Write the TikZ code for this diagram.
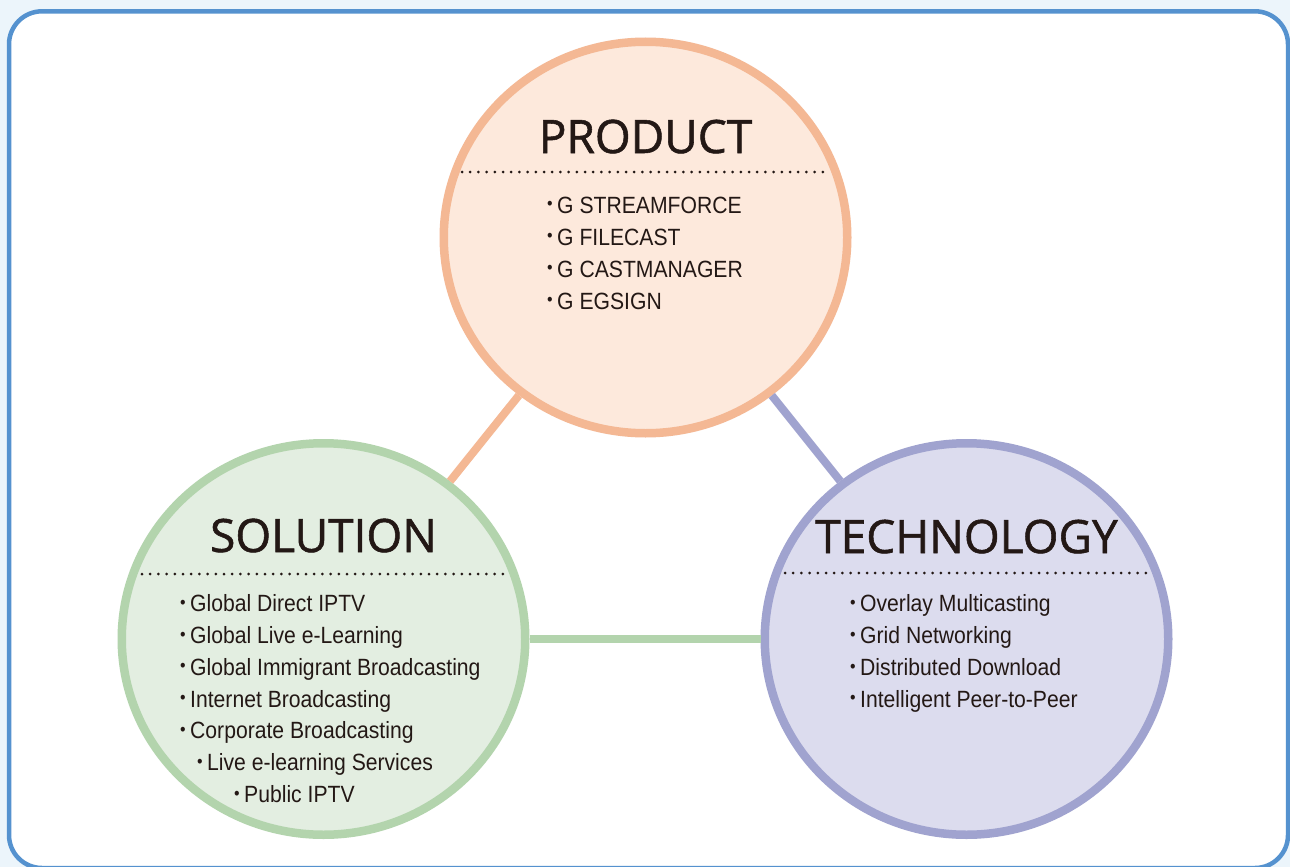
\documentclass[tikz,border=0pt]{standalone}
\usepackage{fontspec}
\setmainfont[FakeStretch=0.9]{Liberation Sans}
\newfontfamily\headfont[FakeBold=1.2]{Open Sans}
\usetikzlibrary{shapes.geometric}
\definecolor{prodline}{HTML}{F4B894}
\definecolor{prodfill}{HTML}{FDE9DC}
\definecolor{solline}{HTML}{B3D4AD}
\definecolor{solfill}{HTML}{E3EEE1}
\definecolor{techline}{HTML}{A0A3CF}
\definecolor{techfill}{HTML}{DCDCEE}
\definecolor{frameline}{HTML}{5592CF}
\definecolor{framebg}{HTML}{ECF5FB}
\definecolor{ink}{HTML}{231815}
\newcommand\dotmark{\llap{\raisebox{3.5pt}{\scalebox{0.75}{\textbullet}}\hspace{4.5pt}}}
\tikzset{
    bubble/.style={ellipse, draw=#1line, fill=#1fill, line width=8.5pt,
        minimum width=403.5pt, minimum height=391.5pt, inner sep=0pt},
    link/.style={draw=#1, line width=8pt},
    heading/.style={font=\headfont\fontsize{46}{46}\selectfont, text=ink, anchor=base, inner sep=0pt},
    sepline/.style={ink, line width=3pt, line cap=round, dash pattern=on 0pt off 8.2pt},
    item/.style={font=\fontsize{23.5}{28}\selectfont, text=ink, anchor=base west, inner sep=0pt},
}

\begin{document}
\begin{tikzpicture}[x=1pt, y=-1pt]
    \useasboundingbox (0,0) rectangle (1290,867);
    \fill[framebg] (0,0) rectangle (1290,867);
    \draw[frameline, fill=white, line width=4.5pt, rounded corners=33pt] (9,11.3) rectangle (1288,868);

    \node[bubble=prod] (prod) at (645.5,237.5) {};
    \node[bubble=sol] (sol) at (323.5,639) {};
    \node[bubble=tech] (tech) at (966.5,639) {};

    \draw[link=prodline] (prod) -- (sol);
    \draw[link=techline] (prod) -- (tech);
    \draw[link=solline] (sol) -- (tech);

    % PRODUCT
    \node[heading] (prodtitle) at (645.5,153) {PRODUCT};
    \draw[sepline] (462,172) -- (830,172);
    \foreach \txt [count=\i from 0] in {G STREAMFORCE, G FILECAST, G CASTMANAGER, G EGSIGN}
        \node[item] (prod-\i) at (557,213.3+32*\i) {\dotmark\txt};

    % SOLUTION
    \node[heading] (soltitle) at (323.5,552) {SOLUTION};
    \draw[sepline] (142,574) -- (507,574);
    \foreach \dx/\txt [count=\i from 0] in {0/Global Direct IPTV, 0/Global Live e-Learning,
        0/Global Immigrant Broadcasting, 0/Internet Broadcasting, 0/Corporate Broadcasting,
        17/Live e-learning Services, 54/Public IPTV}
        \node[item] (sol-\i) at (190+\dx,611.7+31.8*\i) {\dotmark\txt};

    % TECHNOLOGY
    \node[heading] (techtitle) at (966.5,553) {TECHNOLOGY};
    \draw[sepline] (785,573) -- (1152,573);
    \foreach \txt [count=\i from 0] in {Overlay Multicasting, Grid Networking,
        Distributed Download, Intelligent Peer-to-Peer}
        \node[item] (tech-\i) at (860,611.7+31.9*\i) {\dotmark\txt};
\end{tikzpicture}
\end{document}
